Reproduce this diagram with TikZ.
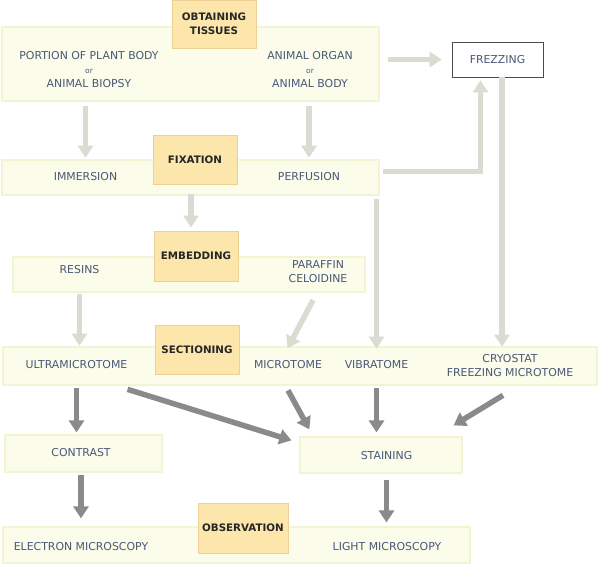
\documentclass[tikz,border=0pt]{standalone}
\usepackage{fontspec}
\setmainfont{DejaVu Sans}
\usepackage{xcolor}
\usepackage{tikz}
\usetikzlibrary{arrows.meta,positioning}

\definecolor{bandfill}{RGB}{251,252,234}
\definecolor{bandedge}{RGB}{242,245,212}
\definecolor{headfill}{RGB}{253,230,172}
\definecolor{headedge}{RGB}{236,208,150}
\definecolor{labelblue}{RGB}{74,88,120}
\definecolor{palegrey}{RGB}{218,220,210}
\definecolor{darkgrey}{RGB}{138,138,138}

\begin{document}
\begin{tikzpicture}
		[x=1pt,y=-1pt,
		band/.style={draw=bandedge,fill=bandfill,line width=1.2pt,inner sep=0pt},
		head/.style={draw=headedge,fill=headfill,line width=0.8pt,text=black!85,
			font=\bfseries\fontsize{10.3}{14}\selectfont,align=center,inner sep=0pt},
		txt/.style={text=labelblue,font=\fontsize{10.9}{14}\selectfont,align=center,inner sep=0pt},
		paler/.style={draw=palegrey,line width=5.5pt,-{Triangle[width=15pt,length=12pt]}},
		darker/.style={draw=darkgrey,line width=5.5pt,-{Triangle[width=15pt,length=12pt]}}]
		\useasboundingbox[fill=white] (0,0) rectangle (600,565);

		\node[band,minimum width=377pt,minimum height=74pt] (topband) at (190.5,64) {};
		\node[band,minimum width=377pt,minimum height=35pt] (fixband) at (190.5,177.5) {};
		\node[band,minimum width=352pt,minimum height=35pt] (embband) at (189,274.5) {};
		\node[band,minimum width=594pt,minimum height=38pt] (secband) at (300,366) {};
		\node[band,minimum width=157pt,minimum height=37pt] (contband) at (83.5,453.5) {};
		\node[band,minimum width=162pt,minimum height=36pt] (stainband) at (381,455) {};
		\node[band,minimum width=467pt,minimum height=36pt] (obsband) at (236.5,545) {};

		\node[head,minimum width=84pt,minimum height=48pt] (obtain) at (214,24) {OBTAINING\\TISSUES};
		\node[head,minimum width=84pt,minimum height=49pt] (fix) at (195,159.5) {FIXATION};
		\node[head,minimum width=84pt,minimum height=50pt] (emb) at (196,256) {EMBEDDING};
		\node[head,minimum width=84pt,minimum height=49pt] (sec) at (197,349.5) {SECTIONING};
		\node[head,minimum width=90pt,minimum height=50pt] (obs) at (243,528) {OBSERVATION};
		\node[txt,draw=black!70,fill=white,line width=0.7pt,minimum width=91pt,minimum height=35pt]
			(frez) at (497.5,59.5) {FREZZING};

		\node[txt] (plant) at (89,70) {PORTION OF PLANT BODY\\{\fontsize{7.5}{14}\selectfont or}\\ANIMAL BIOPSY};
		\node[txt] (organ) at (310,70) {ANIMAL ORGAN\\{\fontsize{7.5}{14}\selectfont or}\\ANIMAL BODY};
		\node[txt] (imm) at (85.5,177) {IMMERSION};
		\node[txt] (perf) at (309,177) {PERFUSION};
		\node[txt] (resins) at (79.5,270) {RESINS};
		\node[txt] (paraffin) at (318,272) {PARAFFIN\\CELOIDINE};
		\node[txt] (ultra) at (76.5,365) {ULTRAMICROTOME};
		\node[txt] (micro) at (288,365) {MICROTOME};
		\node[txt] (vibra) at (376.5,365) {VIBRATOME};
		\node[txt] (cryo) at (510,366) {CRYOSTAT\\FREEZING MICROTOME};
		\node[txt] (contrast) at (81,453) {CONTRAST};
		\node[txt] (staining) at (386.5,456) {STAINING};
		\node[txt] (electron) at (81,547) {ELECTRON MICROSCOPY};
		\node[txt] (light) at (387,547) {LIGHT MICROSCOPY};

		\draw[paler,shorten <=18pt,shorten >=15pt] (imm |- plant.south) -- (imm);
		\draw[paler,shorten <=18pt,shorten >=15pt] (perf |- organ.south) -- (perf);
		\draw[paler,shorten <=8pt,shorten >=10pt] (topband.east |- frez) -- (frez);
		\draw[paler,shorten <=3pt,shorten >=3pt] ([yshift=6pt]fixband.east) -| ([xshift=-17pt]frez.south);
		\draw[paler,shorten >=8pt] ([xshift=4.5pt]frez.south) -- ([xshift=4.5pt]frez.south |- cryo.north);
		\draw[paler,shorten <=3pt,shorten >=12pt] (vibra |- fixband.south) -- (vibra);
		\draw[paler,shorten <=10pt,shorten >=3pt] ([xshift=-4pt]fix.south) -- ([xshift=-4pt]fix.south |- emb.north);
		\draw[paler,shorten <=20pt,shorten >=15pt] (resins) -- (resins |- ultra.north);
		\draw[paler,shorten <=19pt,shorten >=14pt] ([xshift=4pt]paraffin.south) -- ([xshift=-7pt]micro.north);

		\draw[darker,shorten <=19pt,shorten >=2pt] (ultra) -- (ultra |- contband.north);
		\draw[darker] ([yshift=-20pt]ultra.south east) -- ([shift={(-8pt,-4pt)}]stainband.north west);
		\draw[darker] ([yshift=-21pt]micro.south) -- ([shift={(10pt,7pt)}]stainband.north west);
		\draw[darker,shorten <=19pt,shorten >=4pt] (vibra) -- (vibra |- stainband.north);
		\draw[darker] ([shift={(-7pt,-18pt)}]cryo.south) -- ([shift={(-9pt,11pt)}]stainband.north east);
		\draw[darker,shorten <=18pt,shorten >=8pt] (contrast) -- (contrast |- obsband.north);
		\draw[darker,shorten <=20pt,shorten >=4pt] (staining) -- (staining |- obsband.north);
\end{tikzpicture}
\end{document}
